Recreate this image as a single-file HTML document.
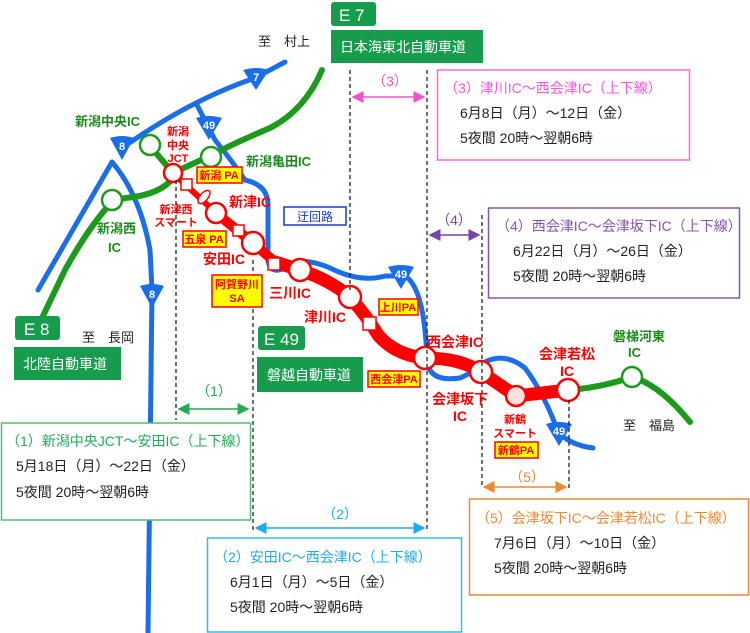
<!DOCTYPE html>
<html><head><meta charset="utf-8"><style>
html,body{margin:0;padding:0;background:#fff}
svg{display:block}
text{font-family:"Liberation Sans","Noto Sans CJK JP",sans-serif}
</style></head><body>
<svg width="750" height="633" viewBox="0 0 750 633" xmlns="http://www.w3.org/2000/svg">
<defs>
<marker id="aG" markerWidth="8" markerHeight="8" refX="7" refY="4" orient="auto-start-reverse"><path d="M0,0L8,4L0,8z" fill="#22aa55"/></marker>
<marker id="aC" markerWidth="8" markerHeight="8" refX="7" refY="4" orient="auto-start-reverse"><path d="M0,0L8,4L0,8z" fill="#22aaee"/></marker>
<marker id="aP" markerWidth="8" markerHeight="8" refX="7" refY="4" orient="auto-start-reverse"><path d="M0,0L8,4L0,8z" fill="#ee55cc"/></marker>
<marker id="aV" markerWidth="8" markerHeight="8" refX="7" refY="4" orient="auto-start-reverse"><path d="M0,0L8,4L0,8z" fill="#7744aa"/></marker>
<marker id="aO" markerWidth="8" markerHeight="8" refX="7" refY="4" orient="auto-start-reverse"><path d="M0,0L8,4L0,8z" fill="#ee8833"/></marker>
</defs>
<!-- blue routes -->
<g fill="none" stroke="#1a6eea" stroke-width="5" stroke-linecap="round">
<path d="M122,148 Q190,100 255,78 L285,62"/>
<path d="M112,162 L38,290"/>
<path d="M112,162 Q140,195 150,250 L152,290 L148,633"/>
<path d="M197,105 L215,140 Q235,165 245,180 Q268,185 268,205 L268,260 Q270,275 285,268 Q300,255 330,268 Q360,283 385,276 L405,276 Q420,285 425,330 L428,365 Q432,382 460,378 Q478,370 485,362 Q505,352 525,368 Q545,395 558,432 Q570,445 593,448"/>
</g>
<!-- blue markers -->
<g fill="#1a6eea"><path d="M110,138 q12,-4 24,0 l-12,22 z"/><path d="M140,286 q12,-4 24,0 l-12,22 z"/><path d="M196,118 q13,-4 26,0 l-13,22 z"/><path d="M243,70 q13,-4 26,0 l-13,20 z"/><path d="M388,267 q13,-4 26,0 l-13,22 z"/><path d="M546,424 q13,-4 26,0 l-13,22 z"/></g>
<g fill="#fff" font-size="11" font-weight="bold" text-anchor="middle"><text x="122" y="150">8</text><text x="152" y="298">8</text><text x="209" y="129">49</text><text x="256" y="81">7</text><text x="401" y="278">49</text><text x="559" y="435">49</text></g>
<!-- green routes -->
<g fill="none" stroke="#1c9a1c" stroke-width="6" stroke-linecap="round">
<path d="M322,70 Q305,110 270,128 Q230,145 212,155 Q190,165 173,173"/>
<path d="M150,146 L173,173"/>
<path d="M173,178 Q160,195 125,198 L112,202 Q90,225 65,270 L42,318"/>
<path d="M567,390 Q600,388 632,377 Q660,385 690,422"/>
</g>
<g fill="#fff" stroke="#1c9a1c" stroke-width="2.5"><circle cx="150" cy="145" r="10"/><circle cx="112" cy="200" r="10"/><circle cx="211" cy="157" r="10"/><circle cx="632" cy="377" r="10"/></g>
<!-- red route -->
<g fill="none" stroke="#f00" stroke-linecap="round">
<path d="M173,173 L216,213" stroke-width="6"/>
<path d="M216,213 L253,243 L275,262" stroke-width="10"/>
<path d="M275,262 L300,270 Q330,280 350,297 Q368,318 378,335 Q395,355 425,358 Q460,358 481,372 L516,396 L568,390" stroke-width="13"/>
</g>
<g fill="#fff" stroke="#f00" stroke-width="2.5"><circle cx="173" cy="173" r="9"/><circle cx="216" cy="213" r="10"/><circle cx="253" cy="243" r="11"/><circle cx="300" cy="270" r="11"/><circle cx="350" cy="297" r="11"/><circle cx="425" cy="358" r="11"/><circle cx="481" cy="372" r="11"/><circle cx="516" cy="396" r="10" fill="#fde0e0"/><circle cx="568" cy="390" r="11"/></g>
<g fill="#fff" stroke="#f00" stroke-width="1.5"><rect x="181" y="179" width="11" height="11"/><rect x="233" y="225" width="11" height="11"/><rect x="268" y="258" width="12" height="12"/><rect x="363" y="317" width="13" height="13"/><ellipse cx="204" cy="197" rx="4" ry="8" transform="rotate(40 204 197)"/></g>
<!-- dashed lines -->
<g stroke="#222" stroke-width="1.3" stroke-dasharray="4,3">
<line x1="176" y1="180" x2="176" y2="420"/><line x1="253" y1="260" x2="253" y2="532"/><line x1="350" y1="70" x2="350" y2="290"/><line x1="427" y1="70" x2="427" y2="532"/><line x1="482" y1="215" x2="482" y2="488"/><line x1="569" y1="400" x2="569" y2="490"/>
</g>
<!-- arrows -->
<line x1="179" y1="409" x2="248" y2="409" stroke="#22aa55" stroke-width="1.5" marker-start="url(#aG)" marker-end="url(#aG)"/>
<line x1="256" y1="528" x2="424" y2="528" stroke="#22aaee" stroke-width="1.5" marker-start="url(#aC)" marker-end="url(#aC)"/>
<line x1="353" y1="97" x2="424" y2="97" stroke="#ee55cc" stroke-width="1.5" marker-start="url(#aP)" marker-end="url(#aP)"/>
<line x1="430" y1="235" x2="479" y2="235" stroke="#7744aa" stroke-width="1.5" marker-start="url(#aV)" marker-end="url(#aV)"/>
<line x1="484" y1="487" x2="566" y2="487" stroke="#ee8833" stroke-width="1.5" marker-start="url(#aO)" marker-end="url(#aO)"/>
<g font-size="14" text-anchor="middle"><text x="214" y="396" fill="#22aa55">（1）</text><text x="340" y="519" fill="#22aaee">（2）</text><text x="390" y="86" fill="#ee55cc">（3）</text><text x="454" y="225" fill="#7744aa">（4）</text><text x="527" y="482" fill="#ee8833">（5）</text></g>
<!-- green signs -->
<g fill="#169c4c"><rect x="331" y="2" width="45" height="24" rx="3"/><rect x="331" y="30" width="152" height="33"/><rect x="15" y="316" width="45" height="24" rx="3"/><rect x="14" y="347" width="107" height="33"/><rect x="258" y="326" width="47" height="24" rx="3"/><rect x="257" y="357" width="106" height="35"/></g>
<g fill="#fff" font-size="14"><text x="339" y="21" font-size="17">E 7</text><text x="340" y="52">日本海東北自動車道</text><text x="24" y="335" font-size="17">E 8</text><text x="23" y="369">北陸自動車道</text><text x="264" y="345" font-size="17">E 49</text><text x="267" y="380">磐越自動車道</text></g>
<g font-size="13" fill="#222"><text x="258" y="46">至　村上</text><text x="82" y="342">至　長岡</text><text x="623" y="430">至　福島</text></g>
<!-- green labels -->
<g fill="#1c8a1c" font-size="13" font-weight="bold"><text x="75" y="126">新潟中央IC</text><text x="246" y="166">新潟亀田IC</text><text x="97" y="233" >新潟西</text><text x="108" y="252">IC</text><text x="613" y="341">磐梯河東</text><text x="628" y="357">IC</text></g>
<!-- red labels -->
<g fill="#f00" font-weight="bold" text-anchor="middle"><g font-size="11"><text x="178" y="135">新潟</text><text x="178" y="149">中央</text><text x="178" y="162">JCT</text><text x="176" y="213">新津西</text><text x="176" y="226">スマート</text><text x="515" y="423">新鶴</text><text x="515" y="437">スマート</text></g>
<g font-size="14"><text x="250" y="207">新津IC</text><text x="224" y="264">安田IC</text><text x="290" y="298">三川IC</text><text x="325" y="322">津川IC</text><text x="455" y="347">西会津IC</text><text x="460" y="404">会津坂下</text><text x="460" y="421">IC</text><text x="567" y="359">会津若松</text><text x="567" y="376">IC</text></g></g>
<!-- PA boxes -->
<g fill="#ff0" stroke="#f00" stroke-width="1.5"><rect x="197" y="167" width="45" height="16"/><rect x="183" y="231" width="43" height="16"/><rect x="212" y="275" width="50" height="32"/><rect x="379" y="299" width="39" height="16"/><rect x="368" y="371" width="52" height="16"/><rect x="495" y="442" width="43" height="16"/></g>
<g fill="#f00" font-size="11" font-weight="bold" text-anchor="middle"><text x="219" y="179">新潟 PA</text><text x="204" y="243">五泉 PA</text><text x="237" y="288">阿賀野川</text><text x="237" y="302">SA</text><text x="398" y="311">上川PA</text><text x="394" y="383">西会津PA</text><text x="516" y="454">新鶴PA</text></g>
<!-- 迂回路 -->
<rect x="284" y="207" width="62" height="18" fill="#fff" stroke="#1a3acc" stroke-width="1.5"/>
<text x="315" y="221" fill="#1a3acc" font-size="12" text-anchor="middle">迂回路</text>
<!-- info boxes -->
<g fill="#fff" stroke-width="1.5"><rect x="1.5" y="423" width="249" height="97" stroke="#55bb77"/><rect x="207.5" y="538" width="254" height="94" stroke="#33bbee"/><rect x="437.5" y="70" width="252" height="90" stroke="#ff66dd"/><rect x="488.5" y="208" width="251" height="90" stroke="#8855aa"/><rect x="469.5" y="499" width="279" height="96" stroke="#ee8833"/></g>
<g font-size="14" fill="#222">
<text x="6" y="446" fill="#22aa55">（1）新潟中央JCT～安田IC（上下線）</text><text x="16" y="471">5月18日（月）～22日（金）</text><text x="16" y="497">5夜間 20時～翌朝6時</text>
<text x="214" y="562" fill="#22aaee">（2）安田IC～西会津IC（上下線）</text><text x="230" y="587">6月1日（月）～5日（金）</text><text x="230" y="612">5夜間 20時～翌朝6時</text>
<text x="444" y="93" fill="#ff55dd">（3）津川IC～西会津IC（上下線）</text><text x="460" y="118">6月8日（月）～12日（金）</text><text x="460" y="143">5夜間 20時～翌朝6時</text>
<text x="496" y="231" fill="#8855aa">（4）西会津IC～会津坂下IC（上下線）</text><text x="513" y="256">6月22日（月）～26日（金）</text><text x="513" y="281">5夜間 20時～翌朝6時</text>
<text x="476" y="523" fill="#ee8833">（5）会津坂下IC～会津若松IC（上下線）</text><text x="494" y="548">7月6日（月）～10日（金）</text><text x="494" y="573">5夜間 20時～翌朝6時</text>
</g>
</svg>
</body></html>
